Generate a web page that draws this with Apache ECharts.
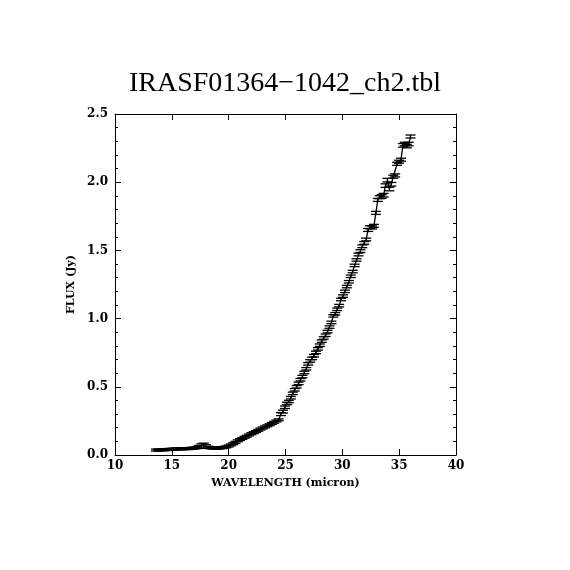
<!DOCTYPE html>
<html lang="en">
<head>
  <meta charset="UTF-8">
  <title>IRASF01364-1042_ch2.tbl</title>
  <style>
    html, body { margin: 0; padding: 0; background: #fff; }
    #main { width: 570px; height: 570px; }
  </style>
</head>
<body>
  <div id="main"></div>
</body>
<script src="https://cdn.jsdelivr.net/npm/echarts@6/dist/echarts.min.js"></script>
<script>

  // spectrum: wavelength (micron), flux (Jy), flux error (Jy)
  const wavelength = [
    13.6, 13.8, 14.0, 14.2, 14.4, 14.6, 14.8, 15.0, 15.2, 15.4,
    15.6, 15.8, 16.0, 16.2, 16.4, 16.6, 16.8, 17.0, 17.2, 17.4,
    17.6, 17.8, 18.0, 18.2, 18.4, 18.6, 18.8, 19.0, 19.2, 19.4,
    19.6, 19.8, 20.0, 20.2, 20.4, 20.6, 20.8, 21.0, 21.2, 21.4,
    21.6, 21.8, 22.0, 22.2, 22.4, 22.6, 22.8, 23.0, 23.2, 23.4,
    23.6, 23.8, 24.0, 24.2, 24.4,
    24.6, 24.78, 24.95, 25.12, 25.3, 25.47, 25.64, 25.81, 25.98, 26.15,
    26.32, 26.49, 26.66, 26.83, 27.0, 27.17, 27.34, 27.51, 27.68, 27.85,
    28.02, 28.19, 28.36, 28.53, 28.7, 28.87, 29.04, 29.21, 29.38, 29.55,
    29.72, 29.89, 30.06, 30.23, 30.4, 30.57, 30.74, 30.91, 31.08, 31.25,
    31.42, 31.59, 31.76, 31.93, 32.1, 32.27, 32.44, 32.61, 32.78, 32.95,
    33.12, 33.29, 33.46, 33.63, 33.8, 33.97, 34.14, 34.31, 34.48, 34.65,
    34.82, 34.99, 35.16, 35.33, 35.5, 35.67, 35.84, 36.0
  ];
  const flux = [
    0.036, 0.037, 0.038, 0.038, 0.039, 0.040, 0.041, 0.042, 0.043, 0.044,
    0.045, 0.046, 0.046, 0.047, 0.047, 0.048, 0.049, 0.051, 0.055, 0.060,
    0.066, 0.068, 0.062, 0.056, 0.053, 0.051, 0.050, 0.050, 0.052, 0.054,
    0.056, 0.060, 0.066, 0.074, 0.083, 0.093, 0.104, 0.113, 0.121, 0.130,
    0.138, 0.147, 0.156, 0.164, 0.172, 0.181, 0.190, 0.198, 0.206, 0.214,
    0.222, 0.231, 0.240, 0.249, 0.258,
    0.300, 0.318, 0.350, 0.378, 0.392, 0.420, 0.452, 0.478, 0.500, 0.525,
    0.552, 0.575, 0.605, 0.632, 0.668, 0.690, 0.708, 0.728, 0.752, 0.778,
    0.805, 0.835, 0.858, 0.878, 0.905, 0.938, 0.972, 1.020, 1.035, 1.068,
    1.095, 1.140, 1.165, 1.200, 1.235, 1.270, 1.310, 1.345, 1.390, 1.430,
    1.470, 1.495, 1.530, 1.555, 1.580, 1.650, 1.670, 1.668, 1.680, 1.775,
    1.870, 1.890, 1.895, 1.905, 1.975, 2.015, 1.950, 1.985, 2.040, 2.050,
    2.135, 2.150, 2.165, 2.270, 2.280, 2.265, 2.280, 2.335
  ];
  const fluxErr = [
    0.007, 0.007, 0.007, 0.007, 0.007, 0.007, 0.007, 0.007, 0.007, 0.007,
    0.007, 0.007, 0.007, 0.007, 0.007, 0.007, 0.007, 0.007, 0.008, 0.010,
    0.016, 0.019, 0.013, 0.008, 0.007, 0.007, 0.007, 0.007, 0.007, 0.007,
    0.007, 0.007, 0.007, 0.007, 0.007, 0.007, 0.007, 0.007, 0.007, 0.007,
    0.007, 0.007, 0.007, 0.007, 0.007, 0.007, 0.007, 0.007, 0.007, 0.007,
    0.007, 0.007, 0.007, 0.007, 0.007,
    0.011, 0.010, 0.009, 0.009, 0.009, 0.009, 0.009, 0.009, 0.009, 0.009,
    0.009, 0.009, 0.009, 0.009, 0.009, 0.009, 0.009, 0.009, 0.009, 0.009,
    0.009, 0.009, 0.009, 0.009, 0.009, 0.009, 0.009, 0.009, 0.009, 0.009,
    0.009, 0.009, 0.009, 0.009, 0.009, 0.009, 0.009, 0.009, 0.009, 0.009,
    0.010, 0.010, 0.010, 0.010, 0.010, 0.011, 0.011, 0.011, 0.011, 0.011,
    0.011, 0.011, 0.013, 0.013, 0.013, 0.013, 0.013, 0.013, 0.011, 0.011,
    0.011, 0.011, 0.011, 0.013, 0.013, 0.013, 0.013, 0.011
  ];

  const xTicks = [10, 15, 20, 25, 30, 35, 40];

  const echarts = window.echarts;
  let myChart = echarts.init(document.getElementById('main'));

  let points = wavelength.map(function (w, i) { return [w, flux[i], fluxErr[i]]; });

  const ink = '#000';
  const serif = 'DejaVu Serif';
  const capHalf = 5;

  function renderErr(params, api) {
    var x = api.value(0), y = api.value(1), e = api.value(2);
    var hi = api.coord([x, y + e]);
    var lo = api.coord([x, y - e]);
    var st = { stroke: ink, lineWidth: 1.3 };
    return {
      type: 'group',
      children: [
        { type: 'line', shape: { x1: hi[0], y1: hi[1], x2: lo[0], y2: lo[1] }, style: st },
        { type: 'line', shape: { x1: hi[0] - capHalf, y1: hi[1], x2: hi[0] + capHalf, y2: hi[1] }, style: st },
        { type: 'line', shape: { x1: lo[0] - capHalf, y1: lo[1], x2: lo[0] + capHalf, y2: lo[1] }, style: st }
      ]
    };
  }

  function xAxisBase(pos) {
    return {
      type: 'value',
      position: pos,
      min: 10,
      max: 40,
      interval: 5,
      axisLine: { show: true, onZero: false, lineStyle: { color: ink, width: 1 } },
      axisTick: { show: true, inside: true, length: 6, lineStyle: { color: ink } },
      splitLine: { show: false },
      axisLabel: {
        show: pos === 'bottom',
        color: ink,
        fontFamily: serif,
        fontSize: 12,
        fontWeight: 'bold',
        margin: 5,
        formatter: function (v) { return xTicks.indexOf(v) >= 0 ? String(v) : ''; }
      }
    };
  }

  function yAxisBase(pos) {
    return {
      type: 'value',
      position: pos,
      min: 0,
      max: 2.5,
      interval: 0.5,
      axisLine: { show: true, onZero: false, lineStyle: { color: ink, width: 1 } },
      axisTick: { show: true, inside: true, length: 6, lineStyle: { color: ink } },
      minorTick: { show: true, splitNumber: 5, length: 3, lineStyle: { color: ink } },
      splitLine: { show: false },
      minorSplitLine: { show: false },
      axisLabel: {
        show: pos === 'left',
        color: ink,
        fontFamily: serif,
        fontSize: 12,
        fontWeight: 'bold',
        margin: 7,
        formatter: function (v) { return v.toFixed(1); }
      }
    };
  }

  let xBottom = xAxisBase('bottom');
  xBottom.name = 'WAVELENGTH (micron)';
  xBottom.nameLocation = 'middle';
  xBottom.nameGap = 23;
  xBottom.nameTextStyle = { color: ink, fontFamily: serif, fontSize: 11, fontWeight: 'bold' };

  let yLeft = yAxisBase('left');
  yLeft.name = 'FLUX (Jy)';
  yLeft.nameLocation = 'middle';
  yLeft.nameGap = 33;
  yLeft.nameTextStyle = { color: ink, fontFamily: serif, fontSize: 11, fontWeight: 'bold' };

  myChart.setOption({
    animation: false,
    backgroundColor: '#fff',
    title: {
      text: 'IRASF01364\u22121042_ch2.tbl',
      left: 'center',
      top: 65,
      textStyle: { color: ink, fontFamily: 'Liberation Serif', fontSize: 28, fontWeight: 'normal' }
    },
    grid: { left: 115, right: 114, top: 114, bottom: 115 },
    xAxis: [xBottom, xAxisBase('top')],
    yAxis: [yLeft, yAxisBase('right')],
    series: [
      {
        name: 'flux',
        type: 'line',
        data: points.map(function (p) { return [p[0], p[1]]; }),
        showSymbol: false,
        lineStyle: { color: ink, width: 1.3 },
        z: 3
      },
      {
        name: 'error',
        type: 'custom',
        renderItem: renderErr,
        data: points,
        encode: { x: 0, y: 1 },
        z: 4
      }
    ]
  });
</script>

</html>
